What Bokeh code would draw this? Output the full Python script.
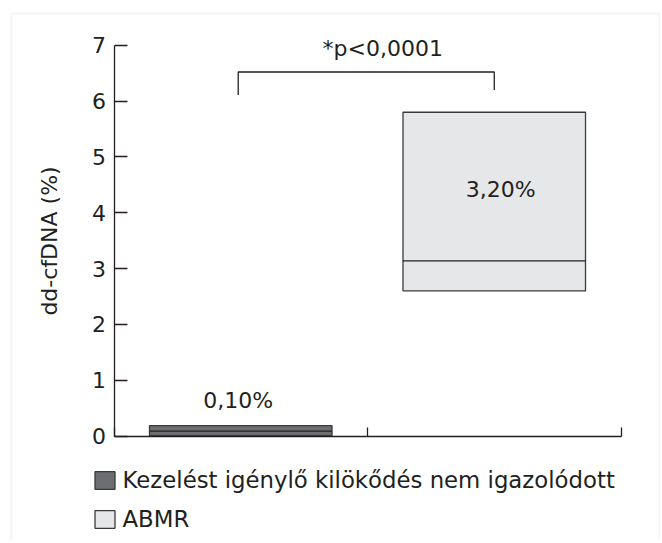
from bokeh.plotting import figure
from bokeh.models import (Range1d, LinearAxis, FixedTicker, Label, Legend, LegendItem,
                          BoxAnnotation, ColumnDataSource)
from bokeh.embed import file_html
from bokeh.resources import INLINE

# ---- data ----
groups = ["Kezelést igénylő kilökődés nem igazolódott", "ABMR"]
group_x = [0.5, 1.5]
q1 = [0.01, 2.6]
median = [0.09, 3.14]
q3 = [0.19, 5.8]
median_labels = ["0,10%", "3,20%"]
label_x = [0.49, 1.525]
label_y = [0.64, 4.42]
fills = ["#6d6e71", "#e6e7e8"]
y_ticks = [0, 1, 2, 3, 4, 5, 6, 7]
x_ticks = [0, 1, 2]
bracket_x = [0.49, 0.49, 1.5, 1.5]
bracket_y = [6.11, 6.52, 6.52, 6.2]
p_text = "*p<0,0001"
p_pos = [1.06, 6.94]
box_width = 0.72

FONT = "DejaVu Sans"
INK = "#231f20"

W, H = 660, 540
# pixel anchors of the plotting area (axis origin, top of y axis, end of x axis)
X0_PX, X2_PX = 113.5, 620.5
Y0_PX, Y7_PX = 435.7, 44.7
sx = (X2_PX - X0_PX) / 2.0
sy = (Y0_PX - Y7_PX) / 7.0


def dx(px):
    return (px - X0_PX) / sx


def dy(py):
    return (Y0_PX - py) / sy


p = figure(width=W, height=H, output_backend="svg", toolbar_location=None,
           x_range=Range1d(dx(0), dx(W)), y_range=Range1d(dy(H), dy(0)),
           x_axis_type=None, y_axis_type=None,
           min_border=0, min_border_left=0, min_border_right=0,
           min_border_top=0, min_border_bottom=0)
p.outline_line_color = None
p.xgrid.visible = False
p.ygrid.visible = False
p.background_fill_color = "white"
p.border_fill_color = "white"

yaxis = LinearAxis(ticker=FixedTicker(ticks=y_ticks), axis_label="dd-cfDNA (%)",
                   fixed_location=0, bounds=(0, 7))
yaxis.major_tick_in = 13
yaxis.major_tick_out = 0
yaxis.minor_tick_line_color = None
yaxis.major_label_standoff = 8
yaxis.axis_line_color = INK
yaxis.axis_line_width = 1.3
yaxis.major_tick_line_color = INK
yaxis.major_tick_line_width = 1.3
yaxis.major_label_text_font = FONT
yaxis.major_label_text_font_size = "22px"
yaxis.major_label_text_color = INK
yaxis.axis_label_text_font = FONT
yaxis.axis_label_text_font_size = "22px"
yaxis.axis_label_text_font_style = "normal"
yaxis.axis_label_text_color = INK
yaxis.axis_label_standoff = 28
p.add_layout(yaxis, "left")

xaxis = LinearAxis(ticker=FixedTicker(ticks=x_ticks), fixed_location=0, bounds=(0, 2))
xaxis.major_tick_in = 9
xaxis.major_tick_out = 0
xaxis.minor_tick_line_color = None
xaxis.major_label_overrides = {t: "" for t in x_ticks}
xaxis.axis_line_color = INK
xaxis.axis_line_width = 1.3
xaxis.major_tick_line_color = INK
xaxis.major_tick_line_width = 1.3
p.add_layout(xaxis, "below")

items = []
for i in range(len(groups)):
    src = ColumnDataSource(dict(left=[group_x[i] - box_width / 2], right=[group_x[i] + box_width / 2],
                                bottom=[q1[i]], top=[q3[i]], med=[median[i]]))
    r = p.quad(left="left", right="right", bottom="bottom", top="top", source=src,
               fill_color=fills[i], line_color="#3a3a3c", line_width=1.3)
    p.segment(x0="left", x1="right", y0="med", y1="med", source=src,
              line_color=INK, line_width=1.3)
    items.append(LegendItem(label=groups[i], renderers=[r]))

for i in range(len(groups)):
    p.add_layout(Label(x=label_x[i], y=label_y[i], text=median_labels[i], text_align="center",
                       text_baseline="alphabetic", text_font=FONT, text_font_size="22px",
                       text_color=INK))

p.line(bracket_x, bracket_y, line_color=INK, line_width=1.3)
p.add_layout(Label(x=p_pos[0], y=p_pos[1], text=p_text, text_align="center",
                   text_baseline="alphabetic", text_font=FONT, text_font_size="22px",
                   text_color=INK))

legend = Legend(items=items, location=(91.5, 8), orientation="vertical",
                padding=0, margin=0, spacing=13, glyph_width=25, glyph_height=22,
                label_standoff=6, label_text_font=FONT, label_text_font_size="22.8px",
                label_text_color=INK, border_line_alpha=0, background_fill_alpha=0)
p.add_layout(legend, "center")

frame_box = BoxAnnotation(left=dx(11), right=dx(659), top=dy(13), bottom=dy(H + 20),
                          fill_alpha=0, line_color="#dedede", line_width=2)
p.add_layout(frame_box)

open("out.html", "w").write(file_html(p, INLINE))
